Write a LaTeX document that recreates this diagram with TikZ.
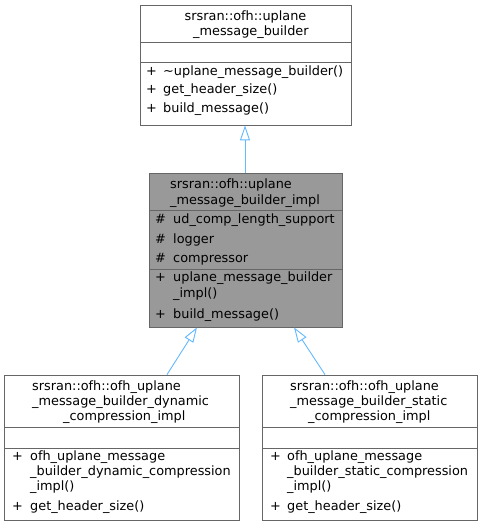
\documentclass[tikz,border=0pt]{standalone}
\usepackage{fontspec}
\setmainfont{DejaVu Sans}
\usetikzlibrary{arrows.meta}
\definecolor{boxline}{HTML}{666666}
\definecolor{implfill}{HTML}{999999}
\definecolor{inherit}{HTML}{63B8FF}
\tikzset{
  cls/.style={draw=boxline, line width=0.8bp, fill=white, rectangle, inner sep=0pt},
  sep/.style={draw=boxline, line width=0.8bp},
  txt/.style={anchor=west, inner sep=0pt, text height=9bp, text depth=3bp, font=\fontsize{12.9}{15}\selectfont},
  gen/.style={draw=inherit, line width=0.9bp, -{Triangle[open, length=15bp, width=10bp]}}
}
\begin{document}
\begin{tikzpicture}[x=1bp, y=-1bp]
\useasboundingbox (0,0) rectangle (482,525);
% base class
\node[cls, minimum width=211bp, minimum height=120bp] (base) at (245.5,65) {};
\draw[sep] (140,42) -- (351,42);
\draw[sep] (140,62) -- (351,62);
\node[txt] (b1) at (184.5,17.5) {srsran::ofh::uplane};
\node[txt] (b2) at (193,32.5) {\_message\_builder};
\node[txt] (bp1) at (146,72.5) {+};
\node[txt] (bm1) at (163,72.5) {\textasciitilde uplane\_message\_builder()};
\node[txt] (bp2) at (146,90.5) {+};
\node[txt] (bm2) at (163,90.5) {get\_header\_size()};
\node[txt] (bp3) at (146,109.5) {+};
\node[txt] (bm3) at (163,109.5) {build\_message()};
% impl class
\node[cls, fill=implfill, minimum width=193bp, minimum height=154bp] (impl) at (245.5,250) {};
\draw[sep] (149,210) -- (342,210);
\draw[sep] (149,269) -- (342,269);
\node[txt] (i1) at (170,185.5) {srsran::ofh::uplane};
\node[txt] (i2) at (170,201.5) {\_message\_builder\_impl};
\node[txt] (ih1) at (155,220.5) {\#};
\node[txt] (ia1) at (173,220.5) {ud\_comp\_length\_support};
\node[txt] (ih2) at (155,240.5) {\#};
\node[txt] (ia2) at (173,240.5) {logger};
\node[txt] (ih3) at (155,259.5) {\#};
\node[txt] (ia3) at (173,259.5) {compressor};
\node[txt] (ip1) at (155,278.5) {+};
\node[txt] (im1) at (173,278.5) {uplane\_message\_builder};
\node[txt] (im1b) at (173,294.5) {\_impl()};
\node[txt] (ip2) at (155,315.5) {+};
\node[txt] (im2) at (173,315.5) {build\_message()};
% dynamic
\node[cls, minimum width=235bp, minimum height=145bp] (dyn) at (121.5,447.5) {};
\draw[sep] (4,427) -- (239,427);
\draw[sep] (4,448) -- (239,448);
\node[txt] (d1) at (32,387.5) {srsran::ofh::ofh\_uplane};
\node[txt] (d2) at (32,402.5) {\_message\_builder\_dynamic};
\node[txt] (d3) at (63,417.5) {\_compression\_impl};
\node[txt] (dp1) at (12,457.5) {+};
\node[txt] (dm1) at (30,457.5) {ofh\_uplane\_message};
\node[txt] (dm1b) at (30,472.5) {\_builder\_dynamic\_compression};
\node[txt] (dm1c) at (30,487.5) {\_impl()};
\node[txt] (dp2) at (12,507.5) {+};
\node[txt] (dm2) at (30,507.5) {get\_header\_size()};
% static
\node[cls, minimum width=215bp, minimum height=145bp] (stat) at (369.5,447.5) {};
\draw[sep] (262,427) -- (477,427);
\draw[sep] (262,448) -- (477,448);
\node[txt] (s1) at (290,387.5) {srsran::ofh::ofh\_uplane};
\node[txt] (s2) at (290,402.5) {\_message\_builder\_static};
\node[txt] (s3) at (308,417.5) {\_compression\_impl};
\node[txt] (sp1) at (270,457.5) {+};
\node[txt] (sm1) at (287,457.5) {ofh\_uplane\_message};
\node[txt] (sm1b) at (287,472.5) {\_builder\_static\_compression};
\node[txt] (sm1c) at (287,487.5) {\_impl()};
\node[txt] (sp2) at (270,507.5) {+};
\node[txt] (sm2) at (287,507.5) {get\_header\_size()};
% inheritance
\draw[gen] ([xshift=-0.5bp]impl.north) -- ([xshift=-0.5bp]base.south);
\draw[gen] ([xshift=45.5bp]dyn.north) -- ([xshift=-48.5bp]impl.south);
\draw[gen] ([xshift=-44.5bp]stat.north) -- ([xshift=48.5bp]impl.south);
\end{tikzpicture}
\end{document}
